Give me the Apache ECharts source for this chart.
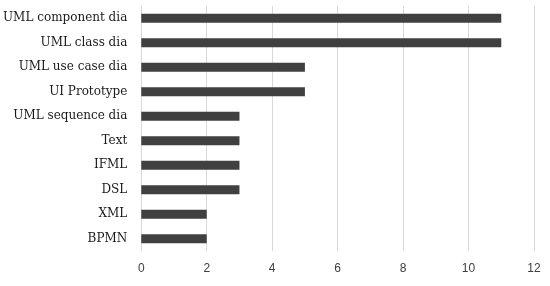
<!DOCTYPE html>
<html><head><meta charset="utf-8">
<script src="https://cdn.jsdelivr.net/npm/echarts@6/dist/echarts.min.js"></script>
<style>html,body{margin:0;padding:0;background:#fff}#c{width:550px;height:286px}</style>
</head><body><div id="c"></div>
<script>
const categories = ["BPMN","XML","DSL","IFML","Text","UML sequence dia","UI Prototype","UML use case dia","UML class dia","UML component dia"];
const values = [2,2,3,3,3,3,5,5,11,11];
const xTicks = [0,2,4,6,8,10,12];

const chart = echarts.init(document.getElementById('c'));
chart.setOption({
  animation:false,
  grid:{left:141,right:16,top:6,bottom:35,containLabel:false},
  xAxis:{type:'value',min:0,max:12,interval:2,
    axisLine:{show:false},axisTick:{show:false},
    splitLine:{lineStyle:{color:'#d9d9d9',width:1}},
    axisLabel:{color:'#404040',fontFamily:'Liberation Sans, Arial',fontSize:12,margin:12,
      formatter:v=>xTicks.includes(v)?String(v):''}},
  yAxis:{type:'category',data:categories,
    axisLine:{show:false},axisTick:{show:false},
    axisLabel:{color:'#1a1a1a',fontFamily:'DejaVu Serif, Liberation Serif, serif',fontSize:12,margin:14}},
  series:[{type:'bar',data:values,barWidth:9,itemStyle:{color:'#404040'}}]
});
</script></body></html>
